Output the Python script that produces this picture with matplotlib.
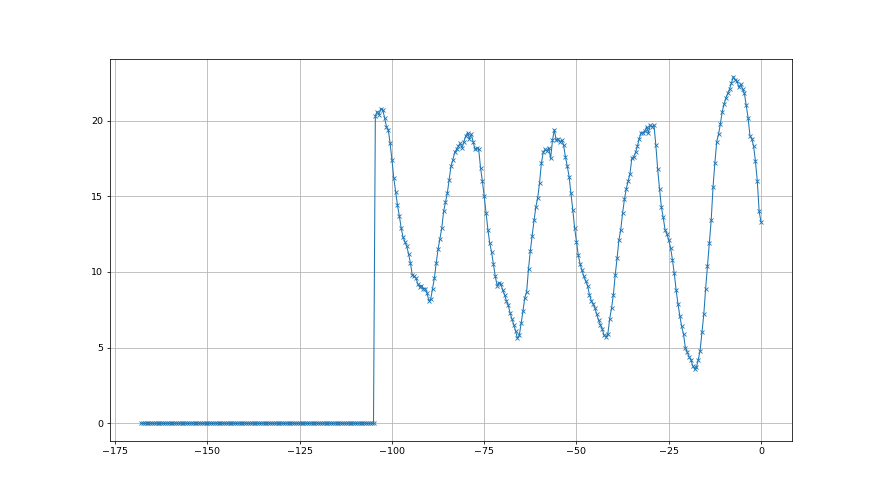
import numpy as np
import matplotlib
matplotlib.use('AGG')
import matplotlib.pyplot as plt

# sampling grid, half a unit apart
x = np.arange(-168, 0.25, 0.5)

# flat part before the jump (-168 .. -105)
flat_values = [0.0] * 127

# oscillating part (-104.5 .. 0)
wave_values = [
    20.3, 20.6, 20.4, 20.8, 20.7, 20.2, 19.6, 19.4, 18.5, 17.4,
    16.2, 15.3, 14.4, 13.7, 12.9, 12.3, 12.0, 11.7, 11.2, 10.6,
    9.8, 9.7, 9.6, 9.2, 9.0, 9.1, 8.9, 8.9, 8.6, 8.1,
    8.2, 8.9, 9.6, 10.6, 11.5, 12.2, 12.9, 14.0, 14.6, 15.2,
    16.1, 17.0, 17.4, 17.9, 18.1, 18.3, 18.5, 18.2, 18.6, 19.0,
    19.2, 18.8, 19.1, 18.6, 18.1, 18.2, 18.1, 16.9, 16.0, 15.0,
    13.9, 12.8, 11.9, 11.3, 10.5, 9.7, 9.1, 9.3, 9.2, 8.8,
    8.5, 8.1, 7.8, 7.3, 6.9, 6.5, 6.1, 5.6, 5.8, 6.6,
    7.4, 8.3, 8.7, 10.2, 11.4, 12.4, 13.4, 14.3, 14.9, 15.9,
    17.2, 17.9, 18.1, 18.0, 18.2, 17.5, 18.7, 19.4, 18.7, 18.8,
    18.6, 18.7, 18.4, 17.6, 17.0, 16.3, 15.2, 14.1, 12.9, 12.0,
    11.1, 10.5, 10.1, 9.7, 9.4, 9.1, 8.5, 8.1, 7.9, 7.6,
    7.2, 6.8, 6.5, 6.2, 5.8, 5.7, 5.9, 6.9, 7.6, 8.5,
    9.8, 10.9, 12.1, 12.8, 13.9, 14.8, 15.5, 16.0, 16.5, 17.5,
    17.6, 17.9, 18.3, 18.8, 19.2, 19.2, 19.3, 19.6, 19.2, 19.7,
    19.6, 19.7, 18.4, 16.8, 15.5, 14.3, 13.6, 12.8, 12.5, 12.1,
    11.6, 10.8, 9.9, 8.8, 7.9, 7.1, 6.4, 5.9, 5.0, 4.7,
    4.4, 4.2, 3.8, 3.6, 3.7, 4.2, 4.8, 6.0, 7.2, 8.9,
    10.4, 11.9, 13.4, 15.6, 17.2, 18.6, 19.1, 19.8, 20.6, 21.1,
    21.5, 21.8, 22.1, 22.5, 22.9, 22.7, 22.6, 22.2, 22.4, 22.1,
    21.8, 21.0, 20.2, 19.0, 18.8, 18.3, 17.3, 16.0, 14.0, 13.3,
]

y = np.array(flat_values + wave_values)

fig, ax = plt.subplots(figsize=(12.8, 7.2), dpi=68.75)
# thinner line and smaller markers, like the reference
ax.plot(x, y, marker='x', linewidth=1.1, markersize=4.5, markeredgewidth=0.9)
ax.grid(True)
plt.savefig('out.png')
